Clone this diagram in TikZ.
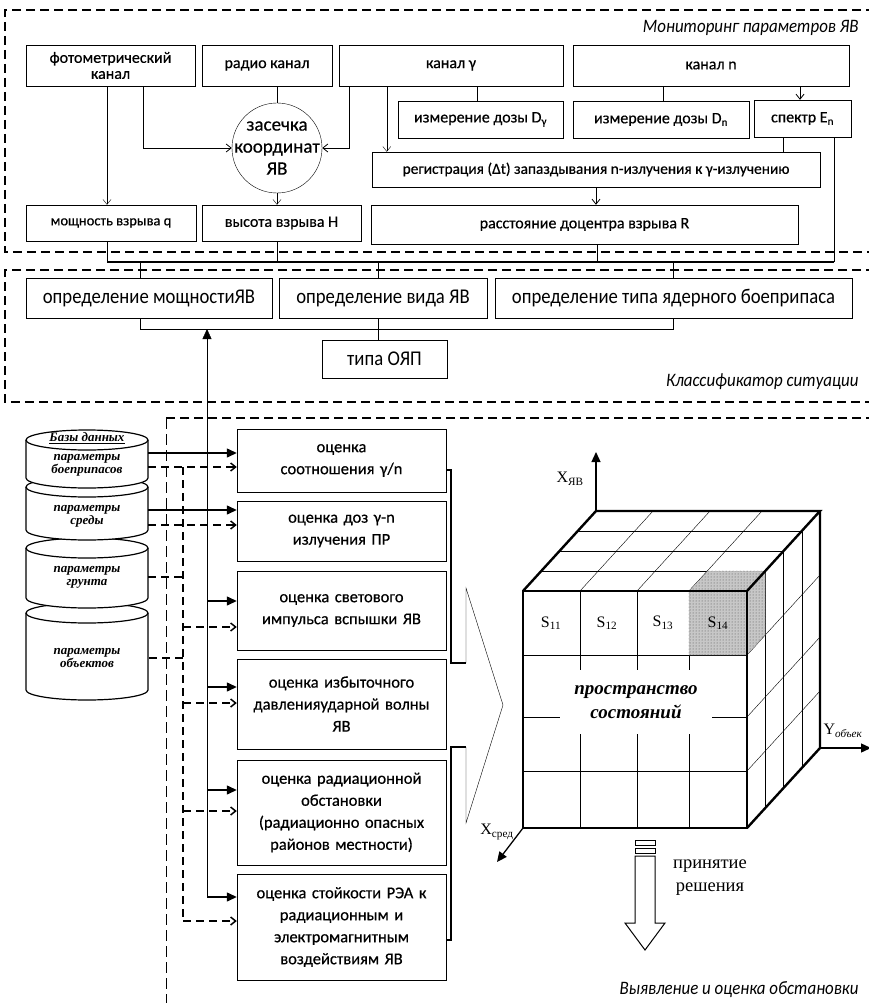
\documentclass[tikz,border=0pt]{standalone}
\usepackage{fontspec}
\setmainfont{Carlito}
\newfontfamily\serif{Liberation Serif}
\newfontfamily\boxf[RawFeature={embolden=0.5}]{Carlito}
\newfontfamily\condf[FakeStretch=0.89]{Carlito}
\usetikzlibrary{positioning,arrows.meta,calc,patterns}

\begin{document}
\begin{tikzpicture}[x=1pt,y=-1pt,>={Straight Barb[length=5pt,width=8pt]},
  blk/.style={draw,inner sep=1pt,align=center,font=\boxf\fontsize{16}{16}\selectfont},
  cls/.style={draw,inner sep=1pt,font=\condf\fontsize{21}{22}\selectfont},
  ev/.style={draw,inner sep=3pt,align=center,text width=203pt,font=\boxf\fontsize{16.5}{22}\selectfont},
  frame/.style={dash pattern=on 9pt off 5pt,line width=1.3pt},
  tri/.style={-{Triangle[length=10pt,width=9pt]},line width=1.3pt},
  dsh/.style={dash pattern=on 8pt off 5pt,line width=1.5pt},
  lbl/.style={anchor=east,font=\condf\itshape\fontsize{19}{20}\selectfont},
  dbtxt/.style={align=center,font=\serif\bfseries\itshape\fontsize{13}{13}\selectfont},
  tms/.style={font=\serif\fontsize{16}{16}\selectfont}]
\clip (0,0) rectangle (869,1003);

% dashed frames
\draw[frame] (875,10) -| (5,252) -- (875,252);
\draw[frame] (875,270) -| (5,402) -- (875,402);
\draw[frame] (875,418) -- (166,418);
\draw[dash pattern=on 11pt off 5pt] (166,418) -- (166,1010);
\node[lbl] (tmon) at (862,28) {Мониторинг параметров ЯВ};
\node[lbl] (tcls) at (862,382) {Классификатор ситуации};
\node[lbl] (tev) at (862,990) {Выявление и  оценка обстановки};

% monitoring
\node[blk,minimum width=169pt,minimum height=41pt] (foto) at (110.5,65.5) {фотометрический\\канал};
\node[blk,minimum width=130pt,minimum height=41pt] (radio) at (267,65.5) {радио канал};
\node[blk,minimum width=224pt,minimum height=41pt] (kg) at (451,65.5) {канал γ};
\node[blk,minimum width=276pt,minimum height=41pt] (kn) at (711,65.5) {канал n};
\node[blk,minimum width=165pt,minimum height=37pt] (dg) at (480.5,119.5) {измерение дозы D\textsubscript{γ}};
\node[blk,minimum width=176pt,minimum height=37pt] (dn) at (661,119.5) {измерение дозы D\textsubscript{n}};
\node[blk,minimum width=97pt,minimum height=37pt] (sp) at (802.5,118.5) {спектр E\textsubscript{n}};
\node[circle,draw,minimum size=90pt,inner sep=-12pt,align=center,font=\boxf\fontsize{19}{22}\selectfont] (zas) at (277,148) {засечка\\координат\\ЯВ};
\node[blk,minimum width=448pt,minimum height=35pt,font=\boxf\fontsize{15.4}{16}\selectfont] (reg) at (596,169.5) {регистрация (Δt) запаздывания n-излучения к γ-излучению};
\node[blk,minimum width=170pt,minimum height=36pt,font=\boxf\fontsize{14.5}{16}\selectfont] (mq) at (111,223) {мощность взрыва q};
\node[blk,minimum width=159pt,minimum height=36pt] (vh) at (281.5,223) {высота взрыва H};
\node[blk,minimum width=427pt,minimum height=39pt] (rast) at (584.5,224.5) {расстояние доцентра взрыва R};

\draw[->] ([xshift=-4pt]mq.north |- foto.south) -- ([xshift=-4pt]mq.north);
\draw[->,thick] ([xshift=32.5pt]foto.south) |- (zas.west);
\draw (zas.north |- radio.south) -- (zas.north);
\draw[->] (zas.south) -- (zas.south |- vh.north);
\draw[->,thick] ([xshift=11pt]kg.south west) |- (zas.east);
\draw[->] ([xshift=48pt]kg.south west) -- ([xshift=48pt]kg.south west |- reg.north);
\draw ([xshift=-3.5pt]dg.north) -- ([xshift=-3.5pt]dg.north |- kg.south);
\draw ([xshift=2pt]dn.north) -- ([xshift=2pt]dn.north |- kn.south);
\draw[->,thick] ([xshift=-2.5pt]sp.north |- kn.south) -- ([xshift=-2.5pt]sp.north);
\draw ([xshift=-19.5pt]sp.south) -- ([xshift=-19.5pt]sp.south |- reg.north);
\draw[->,thick] (reg.south) -- (reg.south |- rast.north);

% bus to classifier
\coordinate (bus) at (0,262);
\draw ([xshift=-4pt]mq.south) -- ([xshift=-4pt]mq.south |- bus);
\draw (zas.south |- vh.south) -- (zas.south |- bus);
\draw[thick] ([xshift=12.5pt]rast.south) -- ([xshift=12.5pt]rast.south |- bus);
\draw ([xshift=31.5pt]sp.south) -- ([xshift=31.5pt]sp.south |- bus);
\draw[line width=2pt] ([xshift=-4pt]mq.south |- bus) -- ([xshift=31.5pt]sp.south |- bus);

% classifier
\node[cls,minimum width=246pt,minimum height=40pt] (om) at (149,298) {определение мощностиЯВ};
\node[cls,minimum width=208pt,minimum height=40pt] (ov) at (383,298) {определение вида ЯВ};
\node[cls,minimum width=357pt,minimum height=40pt] (ot) at (673.5,298) {определение типа ядерного боеприпаса};
\node[cls,minimum width=125pt,minimum height=38pt] (oyap) at (384.5,359) {типа ОЯП};
\draw ([xshift=-9pt]om.north |- bus) -- ([xshift=-9pt]om.north);
\draw ([xshift=-5pt]ov.north |- bus) -- ([xshift=-5pt]ov.north);
\draw (ot.north |- bus) -- (ot.north);
\coordinate (bus2) at (0,329);
\draw ([xshift=-9pt]om.south) |- (ot.south |- bus2) -- (ot.south);
\draw ([xshift=-5pt]ov.south) -- ([xshift=-5pt]ov.south |- oyap.north);

% evaluation
\node[ev,minimum height=63pt] (e1) at (341.5,460.5) {оценка\\соотношения γ/n};
\node[ev,minimum height=60pt] (e2) at (341.5,531) {оценка доз γ-n\\излучения ПР};
\node[ev,minimum height=79pt] (e3) at (341.5,610.5) {оценка светового\\импульса вспышки ЯВ};
\node[ev,minimum height=90pt] (e4) at (341.5,704) {оценка избыточного\\давленияударной волны\\ЯВ};
\node[ev,minimum height=105pt] (e5) at (341.5,812.5) {оценка радиационной\\обстановки\\(радиационно опасных\\районов местности)};
\node[ev,minimum height=106pt] (e6) at (341.5,927) {оценка стойкости РЭА к\\радиационным и\\электромагнитным\\воздействиям ЯВ};

% data bases
\foreach \t/\b in {613/690,548/598,487/530,440/478}{
  \filldraw[fill=white,line width=1.2pt] (26,\t) -- (26,\b) arc[start angle=180,end angle=0,x radius=61,y radius=10] -- (148,\t);
  \draw[fill=white,line width=1.2pt] (87,\t) ellipse[x radius=61,y radius=10];
}
\node[dbtxt] (db0) at (87,438) {\underline{Базы данных}};
\node[dbtxt] (db1) at (87,465) {параметры\\боеприпасов};
\node[dbtxt] (db2) at (87,516) {параметры\\среды};
\node[dbtxt] (db3) at (87,577) {параметры\\грунта};
\node[dbtxt] (db4) at (87,658) {параметры\\объектов};

\coordinate (b1s) at (148,453);
\coordinate (b1d) at (148,467);
\coordinate (b2s) at (148,510);
\coordinate (b2d) at (148,525);
\coordinate (b3d) at (148,577);
\coordinate (b4d) at (149,658);
\coordinate (sv) at (207,897);
\coordinate (vd) at (183,921);

\draw[tri] (b1s) -- (b1s -| e1.west);
\draw[tri] (b2s) -- (b2s -| e2.west);
\draw[dsh,->] (b1d) -- (b1d -| e1.west);
\draw[dsh,->] (b2d) -- (b2d -| e2.west);
\draw[dsh] (b3d) -- (b3d -| vd);
\draw[dsh] (b4d) -- (b4d -| vd);
\draw[dsh] (b1d -| vd) -- (vd);
\draw[-{Triangle[length=10pt,width=9pt]}] (sv) -- (sv |- bus2);
\foreach \b/\s/\d in {e3/9.5/-16.5,e4/17/1,e5/22.5/1.5,e6/30/6}{
  \draw[tri] ([yshift=\s pt]\b.west -| sv) -- ([yshift=\s pt]\b.west);
  \draw[dsh,->] ([yshift=\d pt]\b.west -| vd) -- ([yshift=\d pt]\b.west);
}

% bracket and chevron
\draw[line width=1.4pt] (446,470) -- (451,470) -- (451,663) -- (466,663);
\draw (466,663) -- (466,588) -- (503,705) -- (466,823) -- (466,747);
\draw[line width=1.4pt] (466,747) -- (451,747) -- (451,940) -- (446,940);

% state space cube
\foreach \c in {580,637,689} \draw (\c,591) -- (\c,828);
\foreach \r in {655,717,771} \draw (523,\r) -- (747,\r);
\foreach \c in {580,637,689} \draw (\c,591) -- ++(73,-80);
\foreach \k in {1,2,3} \draw (523+18.25*\k,591-20*\k) -- ++(224,0);
\foreach \k in {1,2,3} \draw (747+18.25*\k,591-20*\k) -- ++(0,237);
\foreach \r in {655,717,771} \draw (747,\r) -- ++(73,-80);
\filldraw[fill=black!22,densely dotted] (689,591) -- (707.25,571) -- (765.25,571) -- (765.25,635) -- (747,655) -- (689,655) -- cycle;
\fill[pattern=dots,pattern color=black!70] (689,591) -- (707.25,571) -- (765.25,571) -- (765.25,635) -- (747,655) -- (689,655) -- cycle;
\draw[densely dotted] (689,591) -- (747,591) -- (765.25,571) (747,591) -- (747,655);
\draw[line width=2.4pt] (523,591) rectangle (747,828);
\draw[line width=2.4pt] (523,591) -- (596,511) -- (820,511) -- (747,591) (820,511) -- (820,748) -- (747,828);
\node[fill=white,inner sep=0pt,minimum width=152pt,minimum height=64pt,align=center,font=\serif\bfseries\itshape\fontsize{19}{24}\selectfont] (ps) at (636,702) {пространство\\состояний};
\node[tms] (s11) at (551,623) {S\textsubscript{11}};
\node[tms] (s12) at (607,623) {S\textsubscript{12}};
\node[tms] (s13) at (663,623) {S\textsubscript{13}};
\node[tms] (s14) at (718,623) {S\textsubscript{14}};

% axes
\coordinate (c0) at (596,511);
\coordinate (xtop) at (596,452);
\coordinate (c1) at (820,748);
\coordinate (yend) at (871,748);
\coordinate (c2) at (523,828);
\coordinate (zend) at (497,862);
\draw[tri] (c0) -- (xtop);
\draw[tri] (c1) -- (yend);
\draw[tri] (c2) -- (zend);
\node[tms] (lx) at (570,479) {X\textsubscript{ЯВ}};
\node[tms] (ly) at (843,731) {Y\textsubscript{\itshape объек}};
\node[tms] (lz) at (497,832) {X\textsubscript{сред}};

% decision
\draw (635,840) rectangle (655,845);
\draw (635,848) rectangle (655,853);
\draw[line width=1pt] (635,856) -- (635,923) -- (625,923) -- (645,950) -- (665,923) -- (655,923) -- (655,856) -- cycle;
\node[align=center,font=\serif\fontsize{18.5}{23}\selectfont] (pr) at (710,878) {принятие\\решения};
\end{tikzpicture}
\end{document}
